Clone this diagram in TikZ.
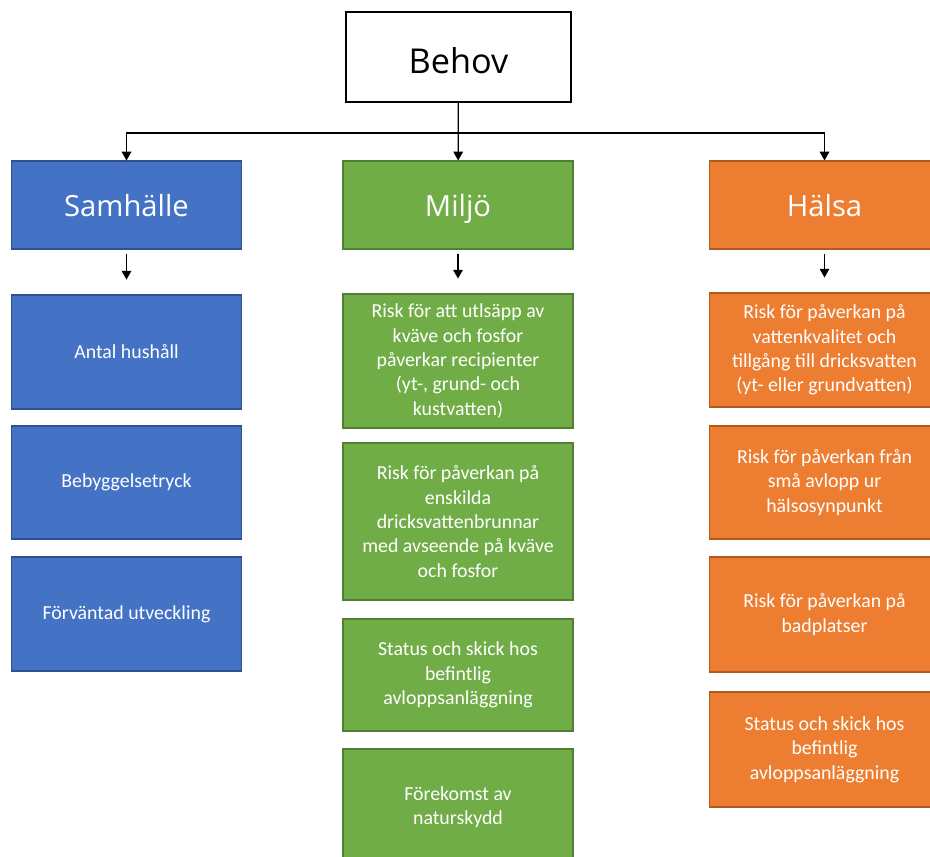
\documentclass[tikz,border=0pt]{standalone}
\usepackage{fontspec}
\setmainfont{Carlito}
\newfontfamily\headfont{Open Sans}
\usetikzlibrary{arrows.meta}
\definecolor{samfill}{HTML}{4472C4}
\definecolor{samline}{HTML}{2F528F}
\definecolor{milfill}{HTML}{70AD47}
\definecolor{milline}{HTML}{507E32}
\definecolor{halfill}{HTML}{ED7D31}
\definecolor{halline}{HTML}{AE5A21}

\begin{document}
\begin{tikzpicture}[x=0.02cm,y=-0.02cm,line width=0.25mm,
    >={Triangle[width=5.5pt,length=5pt]},
    box/.style={rectangle,minimum width=4.6cm,text=white,align=center,
      line width=0.6pt,font=\fontsize{11.3}{13.9}\selectfont},
    head/.style={box,minimum height=1.76cm,text height=13pt,text depth=0pt,
      font=\headfont\fontsize{16.6}{19}\selectfont},
    sam/.style={fill=samfill,draw=samline},
    mil/.style={fill=milfill,draw=milline},
    hal/.style={fill=halfill,draw=halline},
    gap/.style={->,shorten <=2.3pt,shorten >=8.5pt}]
  \useasboundingbox (0,0) rectangle (930,857);

  \node[draw,line width=0.8pt,minimum width=4.5cm,minimum height=1.8cm,
        text height=19pt,text depth=0pt,
        font=\headfont\fontsize{19.5}{23}\selectfont]	(behov)	at (458.5,57)	{Behov};
  \coordinate							(split)	at (458.5,133);

  % kolumnrubriker
  \node[head,sam]	(samh)	at (126.5,205)	{Samhälle};
  \node[head,mil]	(miljo)	at (458,205)	{Miljö};
  \node[head,hal]	(halsa)	at (824.5,205)	{Hälsa};

  % samhälle
  \node[box,sam,minimum height=2.28cm]	(antal)	at (126.5,352)	{Antal hushåll};
  \node[box,sam,minimum height=2.26cm]	(bebygg)	at (126.5,482.5)	{Bebyggelsetryck};
  \node[box,sam,minimum height=2.28cm]	(forv)	at (126.5,614)	{Förväntad utveckling};

  % miljö
  \node[box,mil,minimum height=2.68cm]	(utslapp)	at (458,361)
    {Risk för att utlsäpp av\\kväve och fosfor\\påverkar recipienter\\(yt-, grund- och\\kustvatten)};
  \node[box,mil,minimum height=3.14cm]	(brunnar)	at (458,521.5)
    {Risk för påverkan på\\enskilda\\dricksvattenbrunnar\\med avseende på kväve\\och fosfor};
  \node[box,mil,minimum height=2.24cm]	(mstatus)	at (458,675)
    {Status och skick hos\\befintlig\\avloppsanläggning};
  \node[box,mil,minimum height=2.32cm]	(natur)	at (458,807)
    {Förekomst av\\naturskydd};

  % hälsa
  \node[box,hal,minimum height=2.28cm]	(vatten)	at (824.5,350)
    {Risk för påverkan på\\vattenkvalitet och\\tillgång till dricksvatten\\(yt- eller grundvatten)};
  \node[box,hal,minimum height=2.26cm]	(avlopp)	at (824.5,482.5)
    {Risk för påverkan från\\små avlopp ur\\hälsosynpunkt};
  \node[box,hal,minimum height=2.3cm]	(bad)	at (824.5,614.5)
    {Risk för påverkan på\\badplatser};
  \node[box,hal,minimum height=2.3cm]	(hstatus)	at (824.5,749.5)
    {Status och skick hos\\befintlig\\avloppsanläggning};

  \draw[->]	(behov) -- (miljo);
  \draw[->]	(split) -| (samh.north);
  \draw[->]	(split) -| (halsa.north);

  \draw[gap]	(samh) -- (antal);
  \draw[gap]	(miljo) -- (utslapp);
  \draw[gap]	(halsa) -- (vatten);
\end{tikzpicture}
\end{document}
